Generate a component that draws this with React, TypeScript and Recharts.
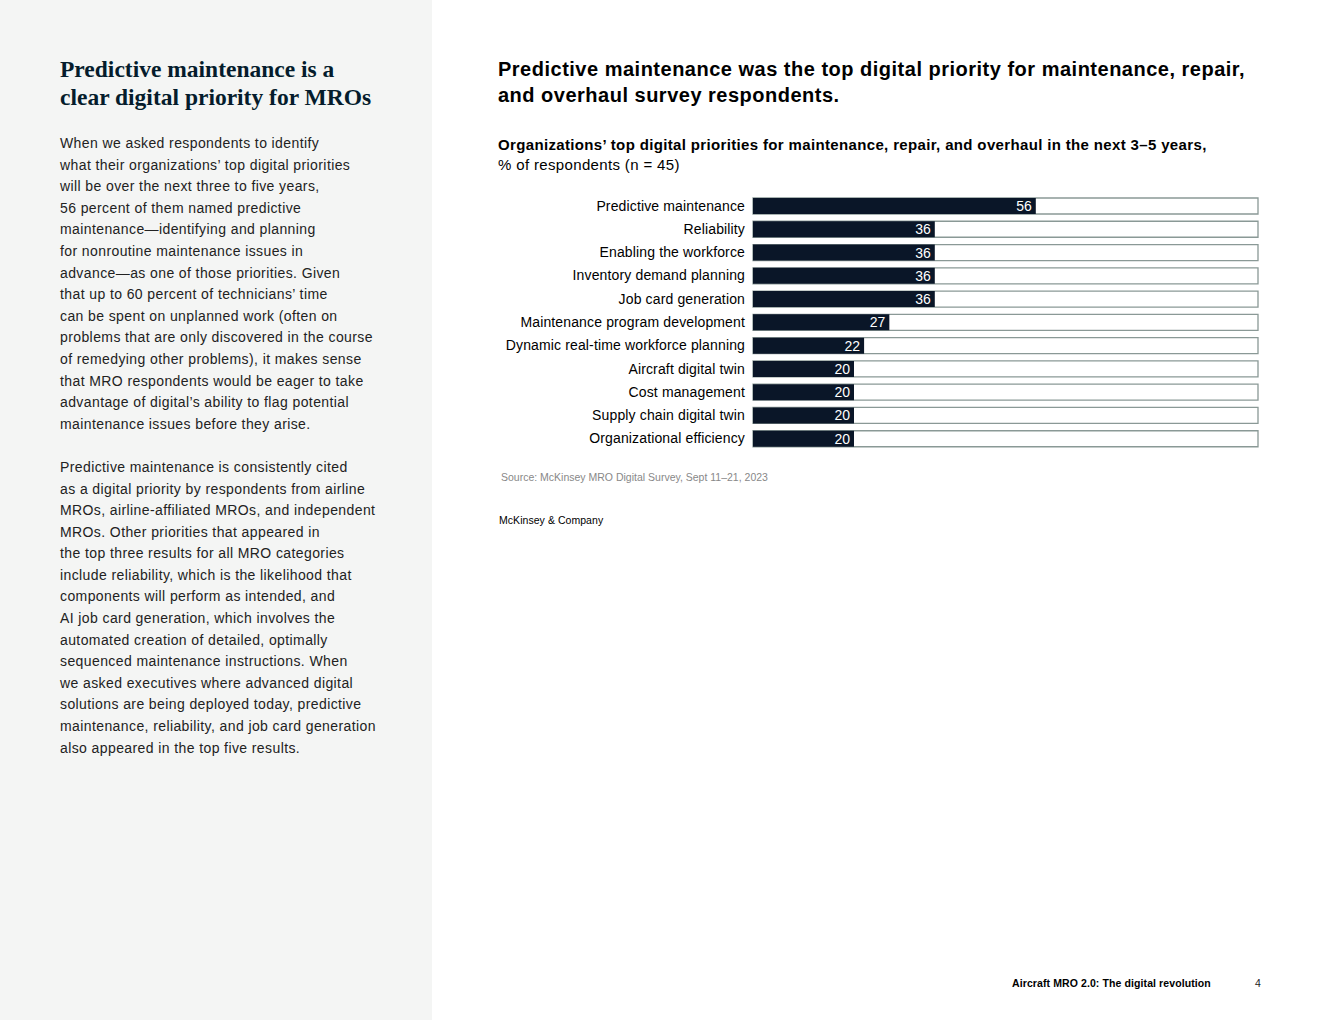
import React from 'react';
import { BarChart, Bar, XAxis, YAxis, LabelList } from 'recharts';

const categories = [
  'Predictive maintenance',
  'Reliability',
  'Enabling the workforce',
  'Inventory demand planning',
  'Job card generation',
  'Maintenance program development',
  'Dynamic real-time workforce planning',
  'Aircraft digital twin',
  'Cost management',
  'Supply chain digital twin',
  'Organizational efficiency',
];
const values = [56, 36, 36, 36, 36, 27, 22, 20, 20, 20, 20];

const data = categories.map((name, i) => ({ name, value: values[i] }));

const para1 = [
  'When we asked respondents to identify',
  'what their organizations\u2019 top digital priorities',
  'will be over the next three to five years,',
  '56 percent of them named predictive',
  'maintenance\u2014identifying and planning',
  'for nonroutine maintenance issues in',
  'advance\u2014as one of those priorities. Given',
  'that up to 60 percent of technicians\u2019 time',
  'can be spent on unplanned work (often on',
  'problems that are only discovered in the course',
  'of remedying other problems), it makes sense',
  'that MRO respondents would be eager to take',
  'advantage of digital\u2019s ability to flag potential',
  'maintenance issues before they arise.',
];
const para2 = [
  'Predictive maintenance is consistently cited',
  'as a digital priority by respondents from airline',
  'MROs, airline-affiliated MROs, and independent',
  'MROs. Other priorities that appeared in',
  'the top three results for all MRO categories',
  'include reliability, which is the likelihood that',
  'components will perform as intended, and',
  'AI job card generation, which involves the',
  'automated creation of detailed, optimally',
  'sequenced maintenance instructions. When',
  'we asked executives where advanced digital',
  'solutions are being deployed today, predictive',
  'maintenance, reliability, and job card generation',
  'also appeared in the top five results.',
];

const SANS = '"Liberation Sans", Arial, sans-serif';
const SERIF = '"Liberation Serif", "Times New Roman", serif';

export default function App() {
  return (
    <div
      style={{
        position: 'absolute',
        left: 0,
        top: 0,
        width: 1320,
        height: 1020,
        background: '#ffffff',
        fontFamily: SANS,
        color: '#000',
        overflow: 'hidden',
      }}
    >
      <div style={{ position: 'absolute', left: 0, top: 0, width: 432, height: 1020, background: '#f4f5f4' }} />
      <div
        style={{
          position: 'absolute',
          left: 60,
          top: 55,
          fontFamily: SERIF,
          fontSize: 23.5,
          lineHeight: '28px',
          fontWeight: 700,
          color: '#051c2c',
          whiteSpace: 'nowrap',
        }}
      >
        Predictive maintenance is a
        <br />
        clear digital priority for MROs
      </div>
      <div
        style={{
          position: 'absolute',
          left: 60,
          top: 133,
          fontSize: 14,
          lineHeight: '21.6px',
          color: '#222',
          whiteSpace: 'nowrap',
          letterSpacing: 0.4,
        }}
      >
        {para1.map((l, i) => (
          <div key={'a' + i}>{l}</div>
        ))}
        <div>&nbsp;</div>
        {para2.map((l, i) => (
          <div key={'b' + i}>{l}</div>
        ))}
      </div>

      <div
        style={{
          position: 'absolute',
          left: 498,
          top: 56,
          fontSize: 20,
          lineHeight: '26px',
          fontWeight: 700,
          whiteSpace: 'nowrap',
          letterSpacing: 0.5,
        }}
      >
        Predictive maintenance was the top digital priority for maintenance, repair,
        <br />
        and overhaul survey respondents.
      </div>
      <div
        style={{
          position: 'absolute',
          left: 498,
          top: 135,
          fontSize: 15,
          lineHeight: '19.5px',
          whiteSpace: 'nowrap',
          letterSpacing: 0.35,
        }}
      >
        <div style={{ fontWeight: 700 }}>
          Organizations’ top digital priorities for maintenance, repair, and overhaul in the next 3–5 years,
        </div>
        <div>% of respondents (n = 45)</div>
      </div>

      <div style={{ position: 'absolute', left: 498, top: 194 }}>
        <BarChart
          width={765}
          height={256}
          data={data}
          layout="vertical"
          margin={{ top: 0, right: 5, bottom: 0, left: 0 }}
          barCategoryGap={0}
        >
          <XAxis type="number" domain={[0, 100]} hide />
          <YAxis
            type="category"
            dataKey="name"
            width={255}
            axisLine={false}
            tickLine={false}
            tickSize={0}
            tickMargin={8}
            interval={0}
            tick={{ fill: '#000', fontSize: 14, fontFamily: SANS, letterSpacing: 0.14 }}
          />
          <Bar
            dataKey="value"
            barSize={16}
            fill="#0a1628"
            isAnimationActive={false}
            background={{ fill: '#ffffff', stroke: '#8a9996', strokeWidth: 1.3 }}
          >
            <LabelList
              dataKey="value"
              position="insideRight"
              offset={4}
              fill="#ffffff"
              fontSize={14}
              fontFamily={SANS}
            />
          </Bar>
        </BarChart>
      </div>

      <div style={{ position: 'absolute', left: 501, top: 471, fontSize: 10.5, color: '#888', whiteSpace: 'nowrap', letterSpacing: 0 }}>
        Source: McKinsey MRO Digital Survey, Sept 11–21, 2023
      </div>
      <div style={{ position: 'absolute', left: 499, top: 514, fontSize: 10.5, color: '#000', whiteSpace: 'nowrap', letterSpacing: 0.05 }}>
        McKinsey &amp; Company
      </div>
      <div style={{ position: 'absolute', left: 1012, top: 977, fontSize: 10.5, fontWeight: 700, whiteSpace: 'nowrap', letterSpacing: 0.1 }}>
        Aircraft MRO 2.0: The digital revolution
      </div>
      <div style={{ position: 'absolute', left: 1255, top: 977, fontSize: 10.5, color: '#222', whiteSpace: 'nowrap' }}>
        4
      </div>
    </div>
  );
}
